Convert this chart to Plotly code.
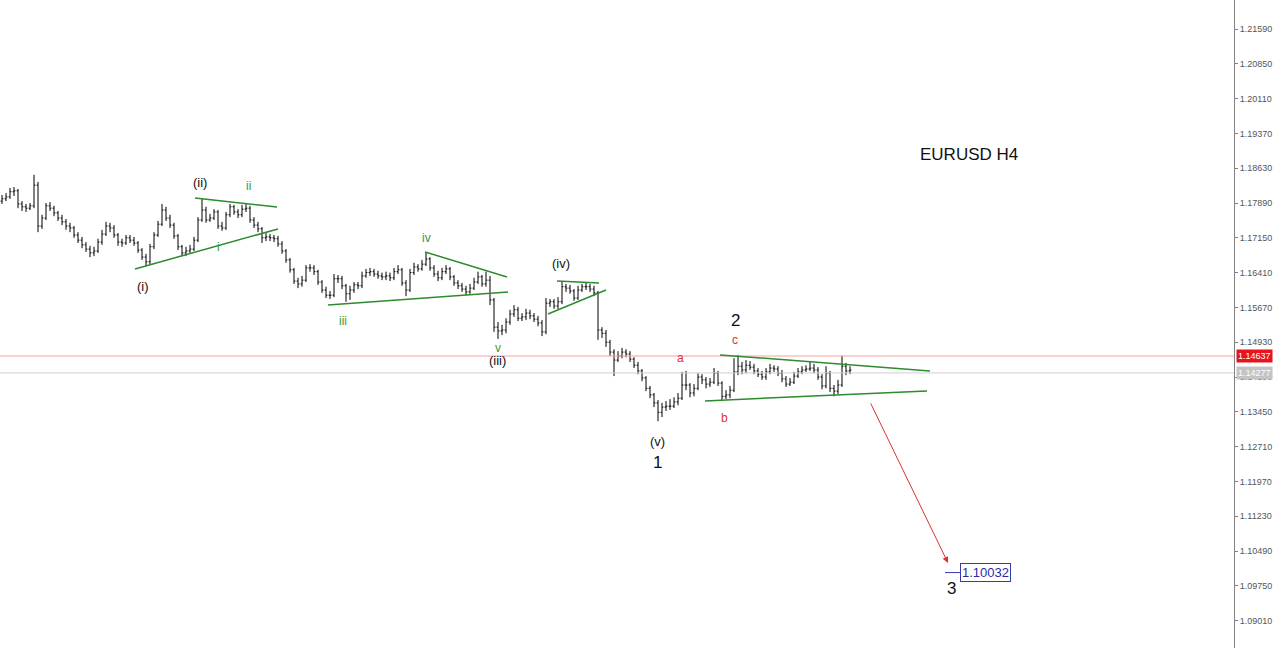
import plotly.graph_objects as go

# ---------------- data ----------------
closes = [1.1798,1.1802,1.1813,1.1815,1.1787,1.1781,1.1778,1.1783,1.1827,1.1740,
1.1757,1.1783,1.1778,1.1768,1.1757,1.1749,1.1740,1.1736,1.1721,1.1710,
1.1700,1.1691,1.1683,1.1687,1.1706,1.1723,1.1740,1.1736,1.1721,1.1706,
1.1704,1.1715,1.1710,1.1704,1.1689,1.1674,1.1664,1.1696,1.1721,1.1744,
1.1774,1.1757,1.1742,1.1719,1.1696,1.1683,1.1687,1.1691,1.1710,1.1753,
1.1774,1.1753,1.1757,1.1770,1.1740,1.1736,1.1764,1.1781,1.1770,1.1764,
1.1776,1.1778,1.1753,1.1742,1.1734,1.1715,1.1717,1.1715,1.1713,1.1702,
1.1687,1.1668,1.1647,1.1623,1.1617,1.1625,1.1651,1.1651,1.1643,1.1621,
1.1604,1.1593,1.1593,1.1628,1.1628,1.1613,1.1596,1.1604,1.1615,1.1613,
1.1634,1.1641,1.1643,1.1638,1.1634,1.1632,1.1634,1.1630,1.1643,1.1647,
1.1619,1.1604,1.1641,1.1653,1.1649,1.1659,1.1670,1.1651,1.1638,1.1630,
1.1643,1.1649,1.1632,1.1619,1.1613,1.1606,1.1600,1.1608,1.1621,1.1632,
1.1617,1.1625,1.1583,1.1525,1.1517,1.1519,1.1536,1.1553,1.1562,1.1544,
1.1547,1.1555,1.1549,1.1542,1.1534,1.1515,1.1576,1.1579,1.1570,1.1579,
1.1611,1.1608,1.1602,1.1587,1.1604,1.1611,1.1611,1.1606,1.1598,1.1519,
1.1512,1.1493,1.1472,1.1455,1.1464,1.1472,1.1468,1.1457,1.1444,1.1432,
1.1417,1.1395,1.1381,1.1364,1.1344,1.1355,1.1357,1.1357,1.1366,1.1374,
1.1402,1.1402,1.1385,1.1395,1.1419,1.1413,1.1404,1.1408,1.1427,1.1406,
1.1378,1.1381,1.1391,1.1430,1.1442,1.1434,1.1444,1.1440,1.1432,1.1425,
1.1419,1.1430,1.1438,1.1436,1.1427,1.1415,1.1404,1.1408,1.1421,1.1430,
1.1434,1.1436,1.1438,1.1434,1.1419,1.1400,1.1427,1.1395,1.1389,1.1402,
1.1442,1.1432,1.1434]

opens = [1.1793,1.1798,1.1802,1.1813,1.1815,1.1787,1.1781,1.1778,1.1783,1.1827,
1.1740,1.1757,1.1783,1.1778,1.1768,1.1757,1.1749,1.1740,1.1736,1.1721,
1.1710,1.1700,1.1691,1.1683,1.1687,1.1706,1.1723,1.1740,1.1736,1.1721,
1.1706,1.1704,1.1715,1.1710,1.1704,1.1689,1.1674,1.1664,1.1696,1.1721,
1.1744,1.1774,1.1757,1.1742,1.1719,1.1696,1.1683,1.1687,1.1691,1.1710,
1.1753,1.1774,1.1753,1.1757,1.1770,1.1740,1.1736,1.1764,1.1781,1.1770,
1.1764,1.1776,1.1778,1.1753,1.1742,1.1734,1.1715,1.1717,1.1715,1.1713,
1.1702,1.1687,1.1668,1.1647,1.1623,1.1617,1.1625,1.1651,1.1651,1.1643,
1.1621,1.1604,1.1593,1.1593,1.1628,1.1628,1.1613,1.1596,1.1604,1.1615,
1.1613,1.1634,1.1641,1.1643,1.1638,1.1634,1.1632,1.1634,1.1630,1.1643,
1.1647,1.1619,1.1604,1.1641,1.1653,1.1649,1.1659,1.1670,1.1651,1.1638,
1.1630,1.1643,1.1649,1.1632,1.1619,1.1613,1.1606,1.1600,1.1608,1.1621,
1.1632,1.1617,1.1625,1.1583,1.1525,1.1517,1.1519,1.1536,1.1553,1.1562,
1.1544,1.1547,1.1555,1.1549,1.1542,1.1534,1.1515,1.1576,1.1579,1.1570,
1.1579,1.1611,1.1608,1.1602,1.1587,1.1604,1.1611,1.1611,1.1606,1.1598,
1.1519,1.1512,1.1493,1.1472,1.1455,1.1464,1.1472,1.1468,1.1457,1.1444,
1.1432,1.1417,1.1395,1.1381,1.1364,1.1344,1.1355,1.1357,1.1357,1.1366,
1.1374,1.1402,1.1402,1.1385,1.1395,1.1419,1.1413,1.1404,1.1408,1.1427,
1.1406,1.1378,1.1381,1.1391,1.1430,1.1442,1.1434,1.1444,1.1440,1.1432,
1.1425,1.1419,1.1430,1.1438,1.1436,1.1427,1.1415,1.1404,1.1408,1.1421,
1.1430,1.1434,1.1436,1.1438,1.1434,1.1419,1.1400,1.1427,1.1395,1.1389,
1.1402,1.1442,1.1432]

highs = [1.1806,1.1810,1.1821,1.1823,1.1819,1.1793,1.1787,1.1789,1.1849,1.1834,
1.1764,1.1789,1.1791,1.1783,1.1772,1.1764,1.1755,1.1747,1.1740,1.1727,
1.1717,1.1706,1.1698,1.1696,1.1713,1.1732,1.1749,1.1747,1.1742,1.1725,
1.1713,1.1721,1.1721,1.1717,1.1708,1.1693,1.1681,1.1702,1.1727,1.1751,
1.1787,1.1781,1.1764,1.1747,1.1723,1.1700,1.1696,1.1700,1.1717,1.1759,
1.1798,1.1781,1.1766,1.1776,1.1774,1.1749,1.1770,1.1787,1.1785,1.1776,
1.1785,1.1789,1.1783,1.1759,1.1749,1.1738,1.1725,1.1723,1.1721,1.1719,
1.1708,1.1691,1.1672,1.1651,1.1630,1.1634,1.1657,1.1659,1.1657,1.1647,
1.1625,1.1611,1.1602,1.1638,1.1636,1.1634,1.1617,1.1613,1.1621,1.1621,
1.1643,1.1649,1.1651,1.1649,1.1645,1.1641,1.1643,1.1641,1.1651,1.1657,
1.1651,1.1625,1.1649,1.1662,1.1659,1.1668,1.1683,1.1674,1.1657,1.1645,
1.1651,1.1657,1.1653,1.1636,1.1625,1.1619,1.1613,1.1617,1.1630,1.1643,
1.1636,1.1643,1.1634,1.1587,1.1536,1.1530,1.1544,1.1562,1.1572,1.1568,
1.1555,1.1564,1.1562,1.1555,1.1549,1.1540,1.1587,1.1585,1.1585,1.1589,
1.1621,1.1617,1.1615,1.1606,1.1613,1.1617,1.1619,1.1617,1.1613,1.1602,
1.1525,1.1519,1.1498,1.1478,1.1474,1.1481,1.1478,1.1474,1.1461,1.1451,
1.1436,1.1421,1.1400,1.1385,1.1370,1.1364,1.1368,1.1372,1.1376,1.1385,
1.1430,1.1432,1.1406,1.1404,1.1427,1.1425,1.1419,1.1417,1.1438,1.1432,
1.1410,1.1391,1.1400,1.1459,1.1466,1.1451,1.1455,1.1453,1.1447,1.1438,
1.1432,1.1438,1.1447,1.1444,1.1442,1.1434,1.1421,1.1417,1.1430,1.1438,
1.1442,1.1444,1.1451,1.1447,1.1440,1.1425,1.1442,1.1432,1.1402,1.1413,
1.1464,1.1449,1.1442]

lows = [1.1787,1.1793,1.1798,1.1804,1.1778,1.1772,1.1770,1.1774,1.1778,1.1727,
1.1734,1.1753,1.1772,1.1761,1.1751,1.1742,1.1732,1.1727,1.1715,1.1704,
1.1693,1.1685,1.1674,1.1676,1.1683,1.1700,1.1719,1.1727,1.1715,1.1698,
1.1696,1.1700,1.1704,1.1698,1.1683,1.1668,1.1655,1.1659,1.1691,1.1717,
1.1740,1.1751,1.1736,1.1713,1.1689,1.1676,1.1676,1.1683,1.1687,1.1706,
1.1749,1.1747,1.1749,1.1753,1.1734,1.1730,1.1732,1.1759,1.1764,1.1757,
1.1759,1.1770,1.1747,1.1736,1.1727,1.1704,1.1708,1.1708,1.1706,1.1696,
1.1681,1.1662,1.1641,1.1617,1.1608,1.1611,1.1621,1.1643,1.1636,1.1615,
1.1598,1.1587,1.1585,1.1589,1.1619,1.1606,1.1579,1.1583,1.1598,1.1606,
1.1608,1.1630,1.1634,1.1632,1.1628,1.1625,1.1625,1.1623,1.1625,1.1638,
1.1613,1.1591,1.1600,1.1636,1.1643,1.1645,1.1655,1.1645,1.1632,1.1623,
1.1625,1.1638,1.1625,1.1613,1.1606,1.1600,1.1593,1.1596,1.1604,1.1617,
1.1611,1.1611,1.1572,1.1515,1.1500,1.1508,1.1512,1.1530,1.1547,1.1538,
1.1538,1.1540,1.1542,1.1536,1.1527,1.1506,1.1510,1.1568,1.1564,1.1564,
1.1574,1.1600,1.1596,1.1581,1.1583,1.1600,1.1604,1.1600,1.1591,1.1498,
1.1502,1.1483,1.1464,1.1421,1.1451,1.1459,1.1461,1.1451,1.1438,1.1425,
1.1410,1.1389,1.1374,1.1355,1.1325,1.1334,1.1347,1.1349,1.1353,1.1359,
1.1370,1.1391,1.1376,1.1378,1.1391,1.1404,1.1395,1.1398,1.1404,1.1400,
1.1368,1.1372,1.1374,1.1387,1.1423,1.1425,1.1427,1.1434,1.1425,1.1419,
1.1413,1.1413,1.1425,1.1430,1.1421,1.1408,1.1398,1.1400,1.1404,1.1417,
1.1425,1.1430,1.1432,1.1427,1.1413,1.1393,1.1395,1.1387,1.1378,1.1383,
1.1398,1.1423,1.1425]

bar_index = list(range(len(closes)))

tick_prices = [1.21590, 1.20850, 1.20110, 1.19370, 1.18630, 1.17890, 1.17150,
               1.16410, 1.15670, 1.14930, 1.14190, 1.13450, 1.12710, 1.11970,
               1.11230, 1.10490, 1.09750, 1.09010]
tick_labels = ["1.21590", "1.20850", "1.20110", "1.19370", "1.18630", "1.17890",
               "1.17150", "1.16410", "1.15670", "1.14930", "1.14190", "1.13450",
               "1.12710", "1.11970", "1.11230", "1.10490", "1.09750", "1.09010"]

bid_level = 1.14637
ask_level = 1.14277
target_level = 1.10032

# trendlines: (x0, y0, x1, y1) in bar index / price
trend_lines = [
    (33.25, 1.16488, 69.0, 1.17339),
    (48.25, 1.17998, 68.75, 1.17806),
    (81.5, 1.15723, 126.5, 1.16000),
    (105.75, 1.16850, 126.25, 1.16318),
    (138.75, 1.16233, 149.25, 1.16190),
    (136.5, 1.15531, 151.0, 1.16041),
    (179.5, 1.14660, 232.0, 1.14320),
    (175.75, 1.13682, 231.25, 1.13894),
]

# wave labels: (text, bar index, price, colour, size)
wave_labels = [
    ("(i)", 35.25, 1.16105, "#111111", 13),
    ("(ii)", 49.5, 1.18316, "#111111", 13),
    ("(iii)", 123.75, 1.14532, "#111111", 13),
    ("(iv)", 139.75, 1.16594, "#111111", 13),
    ("(v)", 163.75, 1.12810, "#111111", 13),
    ("1", 163.75, 1.12364, "#111111", 17),
    ("2", 183.25, 1.15383, "#111111", 17),
    ("3", 237.25, 1.09685, "#111111", 17),
    ("i", 54.0, 1.16956, "#3a9a3a", 12),
    ("ii", 61.5, 1.18253, "#3a9a3a", 12),
    ("iii", 85.25, 1.15383, "#3a9a3a", 12),
    ("iv", 106.0, 1.17147, "#3a9a3a", 12),
    ("v", 124.0, 1.14809, "#3a9a3a", 12),
    ("a", 169.5, 1.14596, "#e03030", 12),
    ("b", 180.5, 1.13320, "#e03030", 12),
    ("c", 183.25, 1.14979, "#e03030", 12),
]

arrow_from = (217.0, 1.13660)
arrow_to = (236.5, 1.10238)
target_x = (235.75, 239.5)

FONT = "Liberation Sans, Arial, sans-serif"

fig = go.Figure()
fig.add_trace(go.Ohlc(
    x=bar_index, open=opens, high=highs, low=lows, close=closes,
    increasing=dict(line=dict(color="#000000", width=1)),
    decreasing=dict(line=dict(color="#000000", width=1)),
    tickwidth=0.35, hoverinfo="skip", showlegend=False,
))

shapes = []
shapes.append(dict(type="line", xref="paper", yref="y", x0=0, x1=1,
                   y0=bid_level, y1=bid_level, line=dict(color="#f4a0a0", width=1)))
shapes.append(dict(type="line", xref="paper", yref="y", x0=0, x1=1,
                   y0=ask_level, y1=ask_level, line=dict(color="#cfcfcf", width=1)))
for (x0, y0, x1, y1) in trend_lines:
    shapes.append(dict(type="line", xref="x", yref="y", x0=x0, y0=y0, x1=x1, y1=y1,
                       line=dict(color="#2e8b2e", width=1.5)))
shapes.append(dict(type="line", xref="x", yref="y", x0=target_x[0], x1=target_x[1],
                   y0=target_level, y1=target_level, line=dict(color="#3a3ab0", width=1)))

annotations = []
for (t, xi, yp, col, sz) in wave_labels:
    annotations.append(dict(x=xi, y=yp, xref="x", yref="y", text=t, showarrow=False,
                            font=dict(family=FONT, size=sz, color=col)))
annotations.append(dict(x=241.75, y=1.18912, xref="x", yref="y", text="EURUSD H4",
                        showarrow=False, font=dict(family=FONT, size=17, color="#111111")))
annotations.append(dict(x=arrow_to[0], y=arrow_to[1], ax=arrow_from[0], ay=arrow_from[1],
                        xref="x", yref="y", axref="x", ayref="y", text="",
                        showarrow=True, arrowhead=2, arrowsize=1.2, arrowwidth=1,
                        arrowcolor="#e03030"))
annotations.append(dict(x=target_x[1], y=target_level, xref="x", yref="y",
                        text="1.10032", showarrow=False, xanchor="left",
                        font=dict(family=FONT, size=13, color="#2a2aa8"),
                        bordercolor="#3a3ab0", borderwidth=1, borderpad=1, bgcolor="white"))
annotations.append(dict(x=1, y=bid_level, xref="paper", yref="y", text="1.14637",
                        showarrow=False, xanchor="left", xshift=2,
                        font=dict(family=FONT, size=9, color="white"),
                        bgcolor="#e8141c", borderpad=1))
annotations.append(dict(x=1, y=ask_level, xref="paper", yref="y", text="1.14277",
                        showarrow=False, xanchor="left", xshift=2,
                        font=dict(family=FONT, size=9, color="white"),
                        bgcolor="#c4c4c4", borderpad=1))

fig.update_layout(
    width=1280, height=648,
    margin=dict(l=0, r=46, t=0, b=0),
    paper_bgcolor="white", plot_bgcolor="white",
    shapes=shapes, annotations=annotations,
    showlegend=False,
    xaxis=dict(visible=False, range=[-0.5, 308], rangeslider=dict(visible=False),
               fixedrange=True),
    yaxis=dict(side="right", range=[1.08428, 1.22207], tickvals=tick_prices,
               ticktext=tick_labels, showgrid=False, zeroline=False,
               showline=True, linecolor="#808080", linewidth=1,
               ticks="outside", ticklen=3, tickcolor="#808080",
               tickfont=dict(family=FONT, size=9, color="#555555"),
               fixedrange=True),
)

fig.write_html("out.html", config={"displayModeBar": False},
               post_script="document.body.style.margin='0';document.body.style.overflow='hidden';")
